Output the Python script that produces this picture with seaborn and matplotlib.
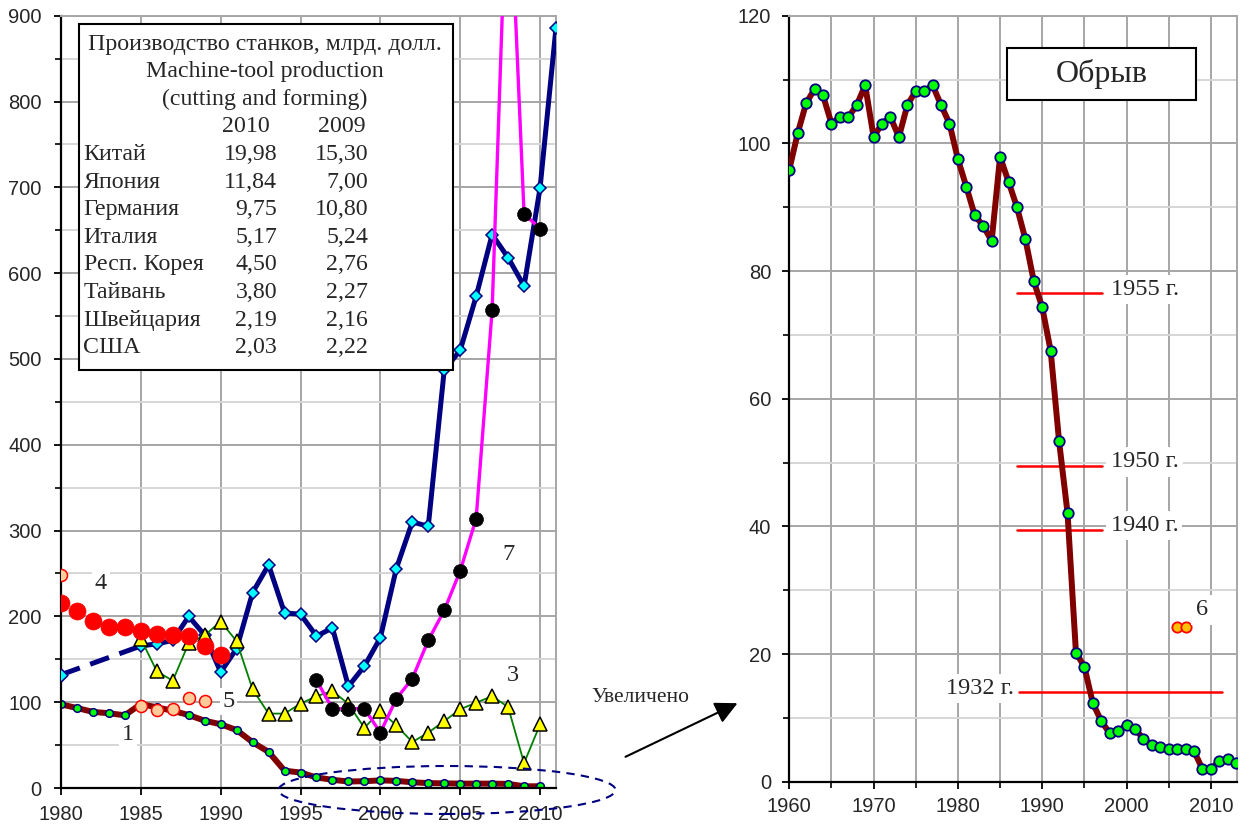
"""Machine-tool production: world producers and the Russian index (with a zoomed panel)."""
import matplotlib
matplotlib.use("Agg")
import matplotlib.pyplot as plt
from matplotlib.patches import Ellipse, FancyArrowPatch, Rectangle
from matplotlib.ticker import FormatStrFormatter, MultipleLocator
import seaborn as sns

# series 1 (index), shown from 1980 on the left and in full on the right
s1_years = list(range(1960, 2014))
s1_values = [95.9, 101.6, 106.3, 108.5, 107.5, 103.1, 104.1, 104.1, 106.0, 109.1,
             101.0, 103.1, 104.1, 101.0, 106.0, 108.2, 108.2, 109.1, 106.0, 103.1,
             97.5, 93.2, 88.7, 87.1, 84.7, 97.9, 94.0, 90.0, 85.0, 78.4,
             74.3, 67.5, 53.3, 42.1, 20.2, 18.0, 12.3, 9.5, 7.6, 7.9,
             8.9, 8.3, 6.7, 5.7, 5.4, 5.1, 5.1, 5.1, 4.8, 2.0,
             2.0, 3.2, 3.6, 2.9]

# series 2 (navy, diamonds); 1980-1985 is a dashed gap
s2_gap_years = [1980, 1985]
s2_gap_values = [132, 165.5]
s2_years = list(range(1985, 2012))
s2_values = [165.5, 168, 172, 200, 178, 135, 162.5, 227.7, 260, 204, 202.5, 177, 186.5,
             118.5, 142, 175, 255.7, 310, 305, 487, 510, 573, 645, 618, 585, 699, 886]

# series 3 (green line, yellow triangles)
s3_years = list(range(1985, 2011))
s3_values = [174, 136, 125, 169, 178, 194, 171, 115, 86.7, 86.7, 98.3, 107, 113,
             98, 70, 90, 73, 53.6, 64.5, 78, 91.7, 99.5, 107, 94.4, 29, 74]

# series 4 (big red dots)
s4_years = list(range(1980, 1991))
s4_values = [216, 206, 194.7, 187.7, 187.7, 183, 180, 178, 176.8, 165.5, 155.5]

# series 5 (light circles)
s5_years = [1980, 1985, 1986, 1987, 1988, 1989]
s5_values = [248, 95.2, 90.6, 92.5, 105, 101.5]

# series 7 (magenta line, black dots); 2008 runs off the top of the chart
s7_years = list(range(1996, 2011))
s7_values = [125.5, 92.5, 92.5, 92.5, 64.5, 104, 127.5, 172, 207, 253, 314, 557, 1100, 669, 652]

# series 6 (right panel)
s6_years = [2006, 2007]
s6_values = [24.3, 24.3]

table_countries = ["Китай", "Япония", "Германия", "Италия", "Респ. Корея",
                   "Тайвань", "Швейцария", "США"]
table_2010 = ["19,98", "11,84", "9,75", "5,17", "4,50", "3,80", "2,19", "2,03"]
table_2009 = ["15,30", "7,00", "10,80", "5,24", "2,76", "2,27", "2,16", "2,22"]

ref_labels = ["1955 г.", "1950 г.", "1940 г.", "1932 г."]
ref_values = [76.5, 49.5, 39.5, 14.1]
ref_x0 = [1987.0, 1987.0, 1987.0, 1987.2]
ref_x1 = [1997.1, 1997.1, 1997.1, 2011.3]

sns.set_style("ticks")
plt.rcParams["font.family"] = ["Liberation Sans", "DejaVu Sans"]
SERIF = ["Liberation Serif", "DejaVu Serif"]

W, H = 1250, 825
fig = plt.figure(figsize=(12.5, 8.25), dpi=100)


def fx(px):
    return px / W


def fy(py):
    return 1 - py / H


ax1 = fig.add_axes([fx(61), fy(788), fx(495), 772.3 / H])
ax2 = fig.add_axes([fx(789.3), fy(781.7), fx(447.7), 766 / H])


def style(ax, xlim, ylim, xmajor, xminor, ymajor, yminor, ypad, xpad):
    ax.set_xlim(*xlim)
    ax.set_ylim(*ylim)
    ax.xaxis.set_major_locator(MultipleLocator(xmajor))
    if xminor:
        ax.xaxis.set_minor_locator(MultipleLocator(xminor))
    ax.yaxis.set_major_locator(MultipleLocator(ymajor))
    ax.yaxis.set_minor_locator(MultipleLocator(yminor))
    ax.xaxis.set_major_formatter(FormatStrFormatter("%d"))
    ax.yaxis.set_major_formatter(FormatStrFormatter("%d"))
    ax.set_axisbelow(True)
    ax.xaxis.grid(True, which="both", color="#a6a6a6", lw=1.4)
    ax.yaxis.grid(True, which="major", color="#a6a6a6", lw=1.4)
    ax.yaxis.grid(True, which="minor", color="#d6d6d6", lw=1.4)
    for side in ("top", "right"):
        ax.spines[side].set_visible(True)
        ax.spines[side].set_color("#a6a6a6")
        ax.spines[side].set_linewidth(1.4)
    for side in ("left", "bottom"):
        ax.spines[side].set_color("black")
        ax.spines[side].set_linewidth(1.6)
    ax.tick_params(which="major", direction="out", length=5, width=1.3, color="black",
                   labelsize=14.5, top=False, right=False)
    ax.tick_params(which="minor", direction="out", length=4, width=1.2, color="black",
                   top=False, right=False)
    ax.tick_params(axis="y", which="major", pad=ypad)
    ax.tick_params(axis="x", which="major", pad=xpad)
    ax.set_xlabel("")
    ax.set_ylabel("")


# ---------------- left panel ----------------
n_left = s1_years.index(2010) + 1
sns.lineplot(x=s1_years[20:n_left], y=s1_values[20:n_left], ax=ax1, color="#800000", lw=4.3,
             marker="o", markersize=5.5, markerfacecolor="#00ff00",
             markeredgecolor="#000080", markeredgewidth=1.1, zorder=2)
sns.lineplot(x=s2_gap_years, y=s2_gap_values, ax=ax1, color="#000080", lw=3.6,
             dashes=False, linestyle=(0, (4, 2.2)), zorder=3)
sns.lineplot(x=s2_years, y=s2_values, ax=ax1, color="#000080", lw=3.6,
             marker="D", markersize=6.5, markerfacecolor="#00ffff",
             markeredgecolor="#000080", markeredgewidth=1.1, zorder=3)
sns.scatterplot(x=s2_gap_years[:1], y=s2_gap_values[:1], ax=ax1, marker="D", s=42,
                color="#00ffff", edgecolor="#000080", linewidth=1.1, zorder=3.5)
sns.lineplot(x=s3_years, y=s3_values, ax=ax1, color="#008000", lw=1.3,
             marker="^", markersize=10, markerfacecolor="#ffff00",
             markeredgecolor="black", markeredgewidth=1.1, zorder=4)
sns.scatterplot(x=s4_years, y=s4_values, ax=ax1, s=150, color="#ff0000",
                edgecolor="#ff0000", linewidth=0.5, zorder=5)
sns.scatterplot(x=s5_years, y=s5_values, ax=ax1, s=75, color="#ffcc99",
                edgecolor="#ff0000", linewidth=1.1, zorder=5)
sns.lineplot(x=s7_years, y=s7_values, ax=ax1, color="#ff00ff", lw=2.4, zorder=6)
sns.scatterplot(x=s7_years, y=s7_values, ax=ax1, s=100, color="black",
                edgecolor="black", linewidth=0.5, zorder=6.5)

style(ax1, (1980, 2011), (0, 900), 5, None, 100, 50, ypad=9, xpad=7)

lbl_kw = dict(fontsize=17.5, family=SERIF, ha="center", va="center", zorder=7,
              bbox=dict(facecolor="white", edgecolor="none", pad=2))
for txt, x, y in [("4", 1982.5, 238), ("5", 1990.5, 101), ("1", 1984.2, 62.6),
                  ("7", 2008.0, 271.6), ("3", 2008.3, 131)]:
    ax1.text(x, y, txt, **lbl_kw)

# table box
fig.add_artist(Rectangle((fx(78.5), fy(370)), fx(453 - 78.5), (370 - 24) / H,
                         transform=fig.transFigure, facecolor="white",
                         edgecolor="black", lw=1.5, zorder=5))
tkw = dict(fontsize=17.2, family=SERIF, va="baseline", zorder=6)
for line, yb in [("Производство станков, млрд. долл.", 50),
                 ("Machine-tool production", 77), ("(cutting and forming)", 104.5)]:
    fig.text(fx(265), fy(yb), line, ha="center", **tkw)
fig.text(fx(270), fy(131.7), "2010", ha="right", **tkw)
fig.text(fx(366), fy(131.7), "2009", ha="right", **tkw)
for i, (c, a, b) in enumerate(zip(table_countries, table_2010, table_2009)):
    yb = 160 + 27.6 * i
    fig.text(fx(83.5), fy(yb), c, ha="left", **tkw)
    fig.text(fx(277), fy(yb), a, ha="right", **tkw)
    fig.text(fx(368), fy(yb), b, ha="right", **tkw)

# zoom ellipse, arrow and caption
fig.add_artist(Ellipse((fx(447), fy(790)), fx(337), 48 / H, transform=fig.transFigure,
                       fill=False, edgecolor="#000080", lw=1.5, ls=(0, (4, 3)),
                       zorder=8, clip_on=False))
fig.add_artist(FancyArrowPatch((fx(623), fy(758)), (fx(740), fy(702)),
                               transform=fig.transFigure, color="black", lw=1.5,
                               arrowstyle="-|>,head_length=0.9,head_width=0.45",
                               mutation_scale=15, zorder=8))
fig.text(fx(640), fy(697), "Увеличено", fontsize=15.5, family=SERIF,
         ha="center", va="center")

# ---------------- right panel ----------------
sns.lineplot(x=s1_years, y=s1_values, ax=ax2, color="#800000", lw=4.3,
             marker="o", markersize=7.5, markerfacecolor="#00ff00",
             markeredgecolor="#000080", markeredgewidth=1.3, zorder=3)
sns.scatterplot(x=s6_years, y=s6_values, ax=ax2, s=55, color="#ffc000",
                edgecolor="#ff0000", linewidth=1.3, zorder=4)
for v, x0, x1 in zip(ref_values, ref_x0, ref_x1):
    ax2.plot([x0, x1], [v, v], color="#ff0000", lw=1.8, zorder=2.5)

style(ax2, (1960, 2013.1), (0, 120), 10, 5, 20, 10, ypad=8, xpad=6)

rkw = dict(fontsize=17.5, family=SERIF, va="center", zorder=5,
           bbox=dict(facecolor="white", edgecolor="none", pad=3))
for lab, v in zip(ref_labels[:3], ref_values[:3]):
    ax2.text(1998.1, v + 0.6, lab, ha="left", **rkw)
ax2.text(1986.6, ref_values[3] + 0.5, ref_labels[3], ha="right", **rkw)
ax2.text(2008.9, 26.9, "6", ha="center", **rkw)

ax2.add_patch(Rectangle((1985.8, 106.8), 22.4, 8.1, facecolor="white",
                        edgecolor="black", lw=1.5, zorder=5))
ax2.text(1997.0, 110.9, "Обрыв", fontsize=23, family=SERIF, ha="center",
         va="center", zorder=6)

fig.savefig("out.png", dpi=100)
